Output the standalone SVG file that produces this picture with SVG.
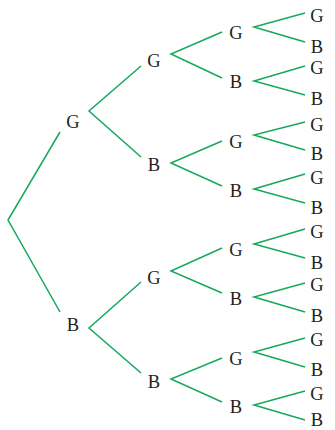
<svg xmlns="http://www.w3.org/2000/svg" width="335" height="430" viewBox="0 0 335 430">
<style>
.e{fill:none;stroke:#14a95a;stroke-width:1.5;stroke-linejoin:miter}
text{font-family:"Liberation Serif","Times New Roman",serif;font-size:18.5px;fill:#231f20;text-anchor:middle}
</style>
<rect width="335" height="430" fill="#fff"/>
<g id="connectors">
<polyline class="e" points="60,132 8,220 60,312"/>
<polyline class="e" points="141,66 89,111 141,157"/>
<polyline class="e" points="141,282 89,328 141,373"/>
<polyline class="e" points="222,32 171,54 222,78"/>
<polyline class="e" points="222,141 171,163 222,186"/>
<polyline class="e" points="222,248 171,271 222,293"/>
<polyline class="e" points="222,358 171,379 222,402"/>
<polyline class="e" points="305,13 254,27 305,42"/>
<polyline class="e" points="305,66 254,81 305,95"/>
<polyline class="e" points="305,122 254,135 305,150"/>
<polyline class="e" points="305,174 254,189 305,203"/>
<polyline class="e" points="305,229 254,244 305,258"/>
<polyline class="e" points="305,283 254,297 305,312"/>
<polyline class="e" points="305,338 254,352 305,367"/>
<polyline class="e" points="305,391 254,405 305,420"/>
</g>
<g id="n1G"><text x="73" y="128">G</text></g>
<g id="n1B"><text x="73" y="331">B</text></g>
<g id="n2GG"><text x="154" y="67">G</text></g>
<g id="n2GB"><text x="154" y="171">B</text></g>
<g id="n2BG"><text x="154" y="284">G</text></g>
<g id="n2BB"><text x="154" y="388">B</text></g>
<g id="n3a"><text x="236" y="39">G</text></g>
<g id="n3b"><text x="236" y="88">B</text></g>
<g id="n3c"><text x="236" y="148">G</text></g>
<g id="n3d"><text x="236" y="197">B</text></g>
<g id="n3e"><text x="236" y="256">G</text></g>
<g id="n3f"><text x="236" y="305">B</text></g>
<g id="n3g"><text x="236" y="365">G</text></g>
<g id="n3h"><text x="236" y="413">B</text></g>
<g id="n4a"><text x="317" y="22">G</text></g>
<g id="n4b"><text x="317" y="53">B</text></g>
<g id="n4c"><text x="317" y="74">G</text></g>
<g id="n4d"><text x="317" y="105">B</text></g>
<g id="n4e"><text x="317" y="131">G</text></g>
<g id="n4f"><text x="317" y="160">B</text></g>
<g id="n4g"><text x="317" y="184">G</text></g>
<g id="n4h"><text x="317" y="214">B</text></g>
<g id="n4i"><text x="317" y="238">G</text></g>
<g id="n4j"><text x="317" y="269">B</text></g>
<g id="n4k"><text x="317" y="291">G</text></g>
<g id="n4l"><text x="317" y="322">B</text></g>
<g id="n4m"><text x="317" y="346">G</text></g>
<g id="n4n"><text x="317" y="376">B</text></g>
<g id="n4o"><text x="317" y="400">G</text></g>
<g id="n4p"><text x="317" y="426">B</text></g>
</svg>
